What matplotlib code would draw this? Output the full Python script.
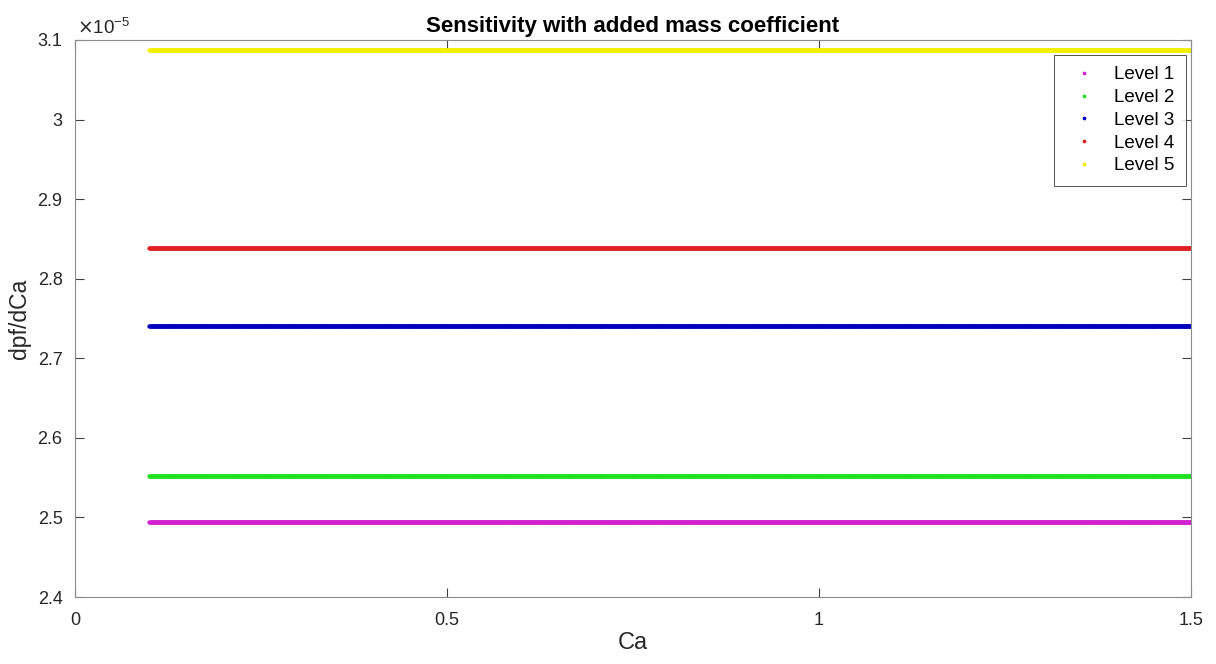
import numpy as np
import matplotlib.pyplot as plt
from matplotlib.ticker import FuncFormatter

# added mass coefficient sweep and sensitivity per level
ca = np.arange(0.1, 1.50001, 0.001)
levels = ['Level 1', 'Level 2', 'Level 3', 'Level 4', 'Level 5']
sens = [2.494e-5, 2.552e-5, 2.740e-5, 2.839e-5, 3.087e-5]
colors = ['#d020d0', '#20e020', '#0000c0', '#e02020', '#f0f000']

plt.rcParams['font.family'] = ['Liberation Sans', 'DejaVu Sans']

fig = plt.figure(figsize=(12.16, 6.64), dpi=100)
ax = fig.add_axes([0.0617, 0.1009, 0.9177, 0.8389])

for name, s, c in zip(levels, sens, colors):
    ax.plot(ca, np.full_like(ca, s), '.', color=c, markersize=4.2, label=name)

ax.set_xlim(0, 1.5)
ax.set_ylim(2.4e-5, 3.1e-5)
ax.set_xticks([0, 0.5, 1, 1.5])
ax.set_yticks(np.arange(2.4, 3.101, 0.1) * 1e-5)
ax.xaxis.set_major_formatter(FuncFormatter(lambda v, p: f'{v:g}'))
ax.yaxis.set_major_formatter(FuncFormatter(lambda v, p: f'{round(v / 1e-5, 2):g}'))
ax.tick_params(direction='in', length=6.5, width=0.8, colors='#404040',
               labelcolor='#262626', labelsize=13, top=True, right=True)
ax.tick_params(axis='x', pad=11)
ax.tick_params(axis='y', pad=9)
for sp in ax.spines.values():
    sp.set_color('#8c8c8c')
    sp.set_linewidth(0.8)
ax.text(0.002, 1.004, r'$\times$10$^{\mathregular{-5}}$', transform=ax.transAxes,
        ha='left', va='bottom', fontsize=13.5, color='#262626')

ax.set_xlabel('Ca', fontsize=17, color='#262626', labelpad=2)
ax.set_ylabel('dpf/dCa', fontsize=16.5, color='#262626', labelpad=5)
ax.set_title('Sensitivity with added mass coefficient', fontsize=16,
             fontweight='bold', pad=6)

leg = ax.legend(loc='upper right', fontsize=13.5, frameon=True, fancybox=False,
                borderaxespad=0.0, bbox_to_anchor=(0.9955, 0.973),
                handlelength=2.0, labelspacing=0.3, markerscale=0.8,
                borderpad=0.6, handletextpad=0.6)
leg.get_frame().set_edgecolor('#262626')
leg.get_frame().set_linewidth(0.7)

fig.savefig('out.png', dpi=100)
